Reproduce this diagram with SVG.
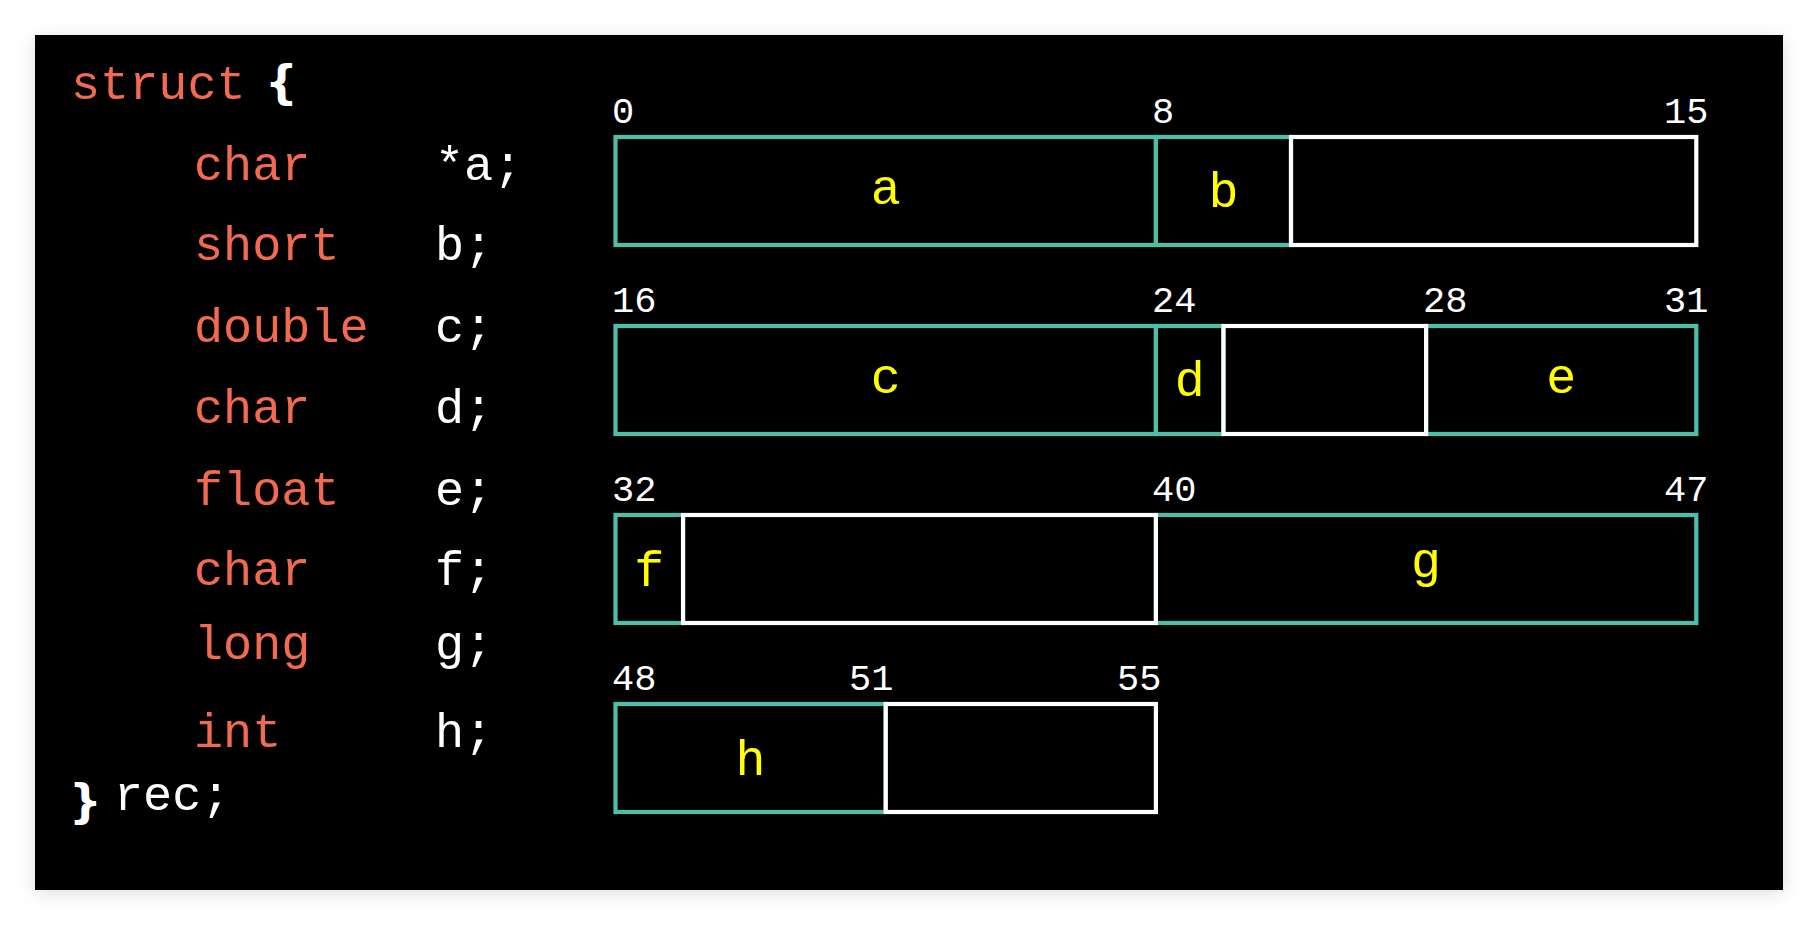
<svg xmlns="http://www.w3.org/2000/svg" width="1818" height="925" viewBox="0 0 1818 925">
<defs>
<filter id="shadow" x="-5%" y="-5%" width="110%" height="110%">
<feDropShadow dx="0" dy="3" stdDeviation="9" flood-color="#000" flood-opacity="0.13"/>
</filter>
<style>
.code{font-family:"Liberation Mono","DejaVu Sans Mono",monospace;font-size:48.5px}
.kw{fill:#f26b50}
.id{fill:#ffffff}
.brace{font-family:"DejaVu Sans","Liberation Sans",sans-serif;font-weight:bold;font-size:46px;fill:#ffffff}
.num{font-family:"Liberation Mono","DejaVu Sans Mono",monospace;font-size:37px;fill:#ffffff}
.lbl{font-family:"Liberation Mono","DejaVu Sans Mono",monospace;font-size:50px;fill:#ffff00;text-anchor:middle}
.field{fill:none;stroke:#4dbfa9;stroke-width:4.2;stroke-linejoin:miter}
.pad{fill:none;stroke:#ffffff;stroke-width:4.2;stroke-linejoin:miter}
</style>
</defs>
<rect x="0" y="0" width="1818" height="925" fill="#ffffff"/>
<rect x="35" y="35" width="1748" height="855" fill="#000000" filter="url(#shadow)"/>

<g id="code">
<text class="code kw" x="71" y="98.5">struct</text>
<text class="brace" x="265" y="98">{</text>
<text class="code kw" x="194" y="180">char</text><text class="code id" x="435" y="180">*a;</text>
<text class="code kw" x="194" y="260">short</text><text class="code id" x="435" y="260">b;</text>
<text class="code kw" x="194" y="341.5">double</text><text class="code id" x="435" y="341.5">c;</text>
<text class="code kw" x="194" y="423">char</text><text class="code id" x="435" y="423">d;</text>
<text class="code kw" x="194" y="505">float</text><text class="code id" x="435" y="505">e;</text>
<text class="code kw" x="194" y="585">char</text><text class="code id" x="435" y="585">f;</text>
<text class="code kw" x="194" y="659">long</text><text class="code id" x="435" y="659">g;</text>
<text class="code kw" x="194" y="747">int</text><text class="code id" x="435" y="747">h;</text>
<text class="brace" x="69" y="817">}</text>
<text class="code id" x="114" y="810">rec;</text>
</g>

<g id="offsets">
<text class="num" x="612" y="122.5">0</text>
<text class="num" x="1152" y="122.5">8</text>
<text class="num" x="1664" y="122.5">15</text>
<text class="num" x="612" y="311.5">16</text>
<text class="num" x="1152" y="311.5">24</text>
<text class="num" x="1423" y="311.5">28</text>
<text class="num" x="1664" y="311.5">31</text>
<text class="num" x="612" y="500.5">32</text>
<text class="num" x="1152" y="500.5">40</text>
<text class="num" x="1664" y="500.5">47</text>
<text class="num" x="612" y="689.5">48</text>
<text class="num" x="849" y="689.5">51</text>
<text class="num" x="1117" y="689.5">55</text>
</g>

<g id="field-a"><rect class="field" x="615.5" y="137" width="540.4" height="108"/><text class="lbl" x="885.7" y="204">a</text></g>
<g id="field-b"><rect class="field" x="1155.9" y="137" width="135.1" height="108"/><text class="lbl" x="1223.5" y="207">b</text></g>
<g id="field-c"><rect class="field" x="615.5" y="326" width="540.4" height="108"/><text class="lbl" x="885.7" y="393">c</text></g>
<g id="field-d"><rect class="field" x="1155.9" y="326" width="67.55" height="108"/><text class="lbl" x="1189.7" y="396">d</text></g>
<g id="field-e"><rect class="field" x="1426.1" y="326" width="270.2" height="108"/><text class="lbl" x="1561.2" y="393">e</text></g>
<g id="field-f"><rect class="field" x="615.5" y="515" width="67.55" height="108"/><text class="lbl" x="649.3" y="585.5">f</text></g>
<g id="field-g"><rect class="field" x="1155.9" y="515" width="540.4" height="108"/><text class="lbl" x="1426.1" y="577">g</text></g>
<g id="field-h"><rect class="field" x="615.5" y="704" width="270.2" height="108"/><text class="lbl" x="750.6" y="774.5">h</text></g>

<g id="pad-1"><rect class="pad" x="1291" y="137" width="405.3" height="108"/></g>
<g id="pad-2"><rect class="pad" x="1223.45" y="326" width="202.65" height="108"/></g>
<g id="pad-3"><rect class="pad" x="683.05" y="515" width="472.85" height="108"/></g>
<g id="pad-4"><rect class="pad" x="885.7" y="704" width="270.2" height="108"/></g>
</svg>
